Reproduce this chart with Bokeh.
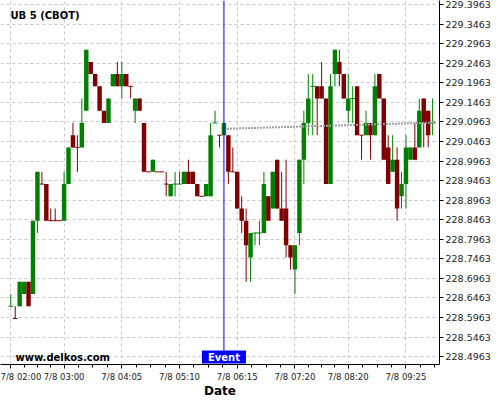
from bokeh.plotting import figure
from bokeh.models import Range1d, FixedTicker, Span, Label, ColumnDataSource, NumeralTickFormatter
from bokeh.embed import file_html
from bokeh.resources import INLINE

# ---- data (5-minute candles from 7/8 02:00) ----
x_tick_idx = [0, 12, 25, 38, 51, 64, 76, 89]
x_tick_labels = ["7/8 02:00", "7/8 03:00", "7/8 04:05", "7/8 05:10",
                 "7/8 06:15", "7/8 07:20", "7/8 08:20", "7/8 09:25"]
y_ticks = [228.4963, 228.5463, 228.5963, 228.6463, 228.6963, 228.7463, 228.7963,
           228.8463, 228.8963, 228.9463, 228.9963, 229.0463, 229.0963, 229.1463,
           229.1963, 229.2463, 229.2963, 229.3463, 229.3963]

opens = [228.625, 228.59375, 228.625, 228.65625, 228.6875, 228.65625, 228.84375, 228.9375, 228.9375, 228.84375,
         228.84375, 228.84375, 228.84375, 228.9375, 229.0625, 229.03125, 229.03125, 229.125, 229.25, 229.21875,
         229.1875, 229.125, 229.09375, 229.1875, 229.21875, 229.1875, 229.21875, 229.1875, 229.125, 229.15625,
         229.09375, 228.96875, 228.96875, 228.96875, 228.96875, 228.9375, 228.90625, 228.9375, 228.9375, 228.9375,
         228.96875, 228.96875, 228.9375, 228.90625, 228.90625, 228.90625, 229.09375, 229.0625, 229.0625, 229.0625,
         228.96875, 228.96875, 228.875, 228.84375, 228.75, 228.8125, 228.8125, 228.8125, 228.90625, 228.875,
         229.0, 228.875, 228.875, 228.78125, 228.71875, 228.8125, 229.0, 229.09375, 229.1875, 229.1875,
         229.1875, 229.15625, 228.9375, 229.21875, 229.25, 229.21875, 229.125, 229.15625, 229.1875, 229.0625,
         229.0625, 229.09375, 229.0625, 229.21875, 229.15625, 229.03125, 228.96875, 229.0, 228.90625, 228.9375,
         229.0, 229.03125, 229.03125, 229.15625, 229.125, 229.09375]
highs = [228.65625, 228.625, 228.6875, 228.6875, 228.6875, 228.84375, 228.96875, 228.96875, 228.9375, 228.875,
         228.875, 228.84375, 228.96875, 229.03125, 229.09375, 229.0625, 229.15625, 229.28125, 229.25, 229.21875,
         229.1875, 229.125, 229.15625, 229.21875, 229.25, 229.25, 229.21875, 229.1875, 229.15625, 229.15625,
         229.09375, 228.96875, 229.0, 228.96875, 228.96875, 228.96875, 228.9375, 228.96875, 228.96875, 228.96875,
         229.0, 228.96875, 228.9375, 228.90625, 228.9375, 229.09375, 229.125, 229.0625, 229.09375, 229.0625,
         229.03125, 228.96875, 228.90625, 228.875, 228.8125, 228.8125, 228.84375, 228.96875, 228.90625, 228.96875,
         229.0, 228.96875, 229.0, 228.78125, 228.78125, 229.0, 229.125, 229.21875, 229.21875, 229.1875,
         229.25, 229.15625, 229.21875, 229.28125, 229.28125, 229.21875, 229.21875, 229.1875, 229.1875, 229.0625,
         229.125, 229.09375, 229.21875, 229.21875, 229.15625, 229.0625, 229.0625, 229.03125, 228.96875, 229.0625,
         229.03125, 229.09375, 229.15625, 229.15625, 229.125, 229.15625]
lows = [228.625, 228.59375, 228.625, 228.65625, 228.625, 228.65625, 228.8125, 228.9375, 228.84375, 228.84375,
        228.84375, 228.84375, 228.84375, 228.9375, 229.03125, 228.96875, 229.03125, 229.125, 229.21875, 229.1875,
        229.125, 229.09375, 229.09375, 229.1875, 229.1875, 229.15625, 229.1875, 229.15625, 229.09375, 229.125,
        228.96875, 228.96875, 228.96875, 228.96875, 228.96875, 228.90625, 228.90625, 228.90625, 228.9375, 228.9375,
        228.9375, 228.9375, 228.90625, 228.90625, 228.90625, 228.90625, 229.09375, 229.03125, 229.0625, 228.9375,
        228.96875, 228.875, 228.8125, 228.6875, 228.6875, 228.78125, 228.78125, 228.8125, 228.84375, 228.875,
        228.875, 228.84375, 228.75, 228.71875, 228.65625, 228.78125, 228.9375, 229.0625, 229.0625, 229.0625,
        229.15625, 228.9375, 228.9375, 229.1875, 229.1875, 229.15625, 229.09375, 229.09375, 229.0625, 229.0,
        229.0625, 229.0, 229.0625, 229.15625, 229.0, 228.9375, 228.96875, 228.84375, 228.875, 228.875,
        229.0, 229.0, 229.03125, 229.03125, 229.03125, 229.0625]
closes = [228.625, 228.59375, 228.6875, 228.6875, 228.625, 228.84375, 228.96875, 228.9375, 228.84375, 228.84375,
          228.84375, 228.84375, 228.9375, 229.03125, 229.03125, 229.03125, 229.09375, 229.28125, 229.21875, 229.1875,
          229.125, 229.09375, 229.15625, 229.21875, 229.1875, 229.21875, 229.1875, 229.1875, 229.15625, 229.125,
          228.96875, 228.96875, 229.0, 228.96875, 228.96875, 228.9375, 228.9375, 228.9375, 228.9375, 228.96875,
          228.9375, 228.9375, 228.90625, 228.90625, 228.9375, 229.0625, 229.09375, 229.0625, 229.09375, 228.96875,
          228.96875, 228.875, 228.84375, 228.78125, 228.8125, 228.8125, 228.8125, 228.9375, 228.84375, 228.96875,
          228.875, 228.84375, 228.78125, 228.75, 228.78125, 229.0, 229.09375, 229.15625, 229.1875, 229.15625,
          229.15625, 228.9375, 229.1875, 229.28125, 229.21875, 229.15625, 229.15625, 229.15625, 229.0625, 229.0625,
          229.09375, 229.0625, 229.1875, 229.15625, 229.0, 228.9375, 229.0, 228.875, 228.9375, 229.03125,
          229.03125, 229.0, 229.125, 229.09375, 229.0625, 229.09375]
# unchanged (doji) candles drawn in the "up" colour
doji_up = [0, 37, 38, 46, 55, 56, 68, 77, 95]

event_idx = 48
trend_x = [48.7, 95.8]
trend_y = [229.079, 229.095]

UP = "#008000"
DOWN = "#800000"
FONT = "DejaVu Sans"
X0, X1 = -2.32, 96.55
Y0, Y1 = 228.4761, 229.4070

n = len(opens)
xs = list(range(n))
colors = []
for i in xs:
    if closes[i] > opens[i] or (closes[i] == opens[i] and i in doji_up):
        colors.append(UP)
    else:
        colors.append(DOWN)

wick_src = ColumnDataSource(dict(x=xs, low=lows, high=highs, color=colors))
body_idx = [i for i in xs if closes[i] != opens[i]]
body_src = ColumnDataSource(dict(
    x=body_idx,
    top=[max(opens[i], closes[i]) for i in body_idx],
    bottom=[min(opens[i], closes[i]) for i in body_idx],
    color=[colors[i] for i in body_idx]))
doji_idx = [i for i in xs if closes[i] == opens[i]]
doji_src = ColumnDataSource(dict(
    x0=[i - 0.5 for i in doji_idx], x1=[i + 0.5 for i in doji_idx],
    y=[opens[i] for i in doji_idx], color=[colors[i] for i in doji_idx]))

p = figure(frame_width=439, frame_height=364,
           x_range=Range1d(X0, X1), y_range=Range1d(Y0, Y1),
           output_backend="svg", toolbar_location=None, y_axis_location="right",
           min_border_left=0, min_border_top=0, min_border_right=0, min_border_bottom=0)
p.outline_line_color = None
p.background_fill_color = "white"
p.border_fill_color = "white"

# grid
p.grid.grid_line_color = "#c8c8c8"
p.grid.grid_line_dash = "3 3"
p.grid.grid_line_width = 1

# x axis
minor = []
for a, b in zip(x_tick_idx[:-1], x_tick_idx[1:]):
    minor += [a + (b - a) * k / 4 for k in (1, 2, 3)]
minor += [x_tick_idx[-1] + 3.25 * k for k in (1, 2)]
p.xaxis.ticker = FixedTicker(ticks=x_tick_idx, minor_ticks=minor)
p.xaxis.major_label_overrides = {t: s for t, s in zip(x_tick_idx, x_tick_labels)}
p.xaxis.axis_label = "Date"
p.xaxis.axis_label_text_font = FONT
p.xaxis.axis_label_text_font_style = "bold"
p.xaxis.axis_label_text_font_size = "12px"
p.xaxis.axis_label_text_color = "black"
p.xaxis.axis_label_standoff = -1
p.xaxis.major_label_standoff = 3
p.xaxis.major_tick_out = 4
p.xaxis.major_tick_in = 0
p.xaxis.minor_tick_out = 3
p.xaxis.minor_tick_in = 0

# y axis
p.yaxis.ticker = FixedTicker(ticks=y_ticks)
p.yaxis.formatter = NumeralTickFormatter(format="0.0000")
p.yaxis.major_tick_out = 4
p.yaxis.major_tick_in = 0
p.yaxis.minor_tick_line_color = None
p.yaxis.major_label_standoff = 2

for ax in (p.xaxis, p.yaxis):
    ax.axis_line_color = "black"
    ax.axis_line_width = 1
    ax.major_tick_line_color = "black"
    ax.major_label_text_font = FONT
    ax.major_label_text_color = "#222222"
p.yaxis.major_label_text_font_size = "9.5px"
p.xaxis.major_label_text_font_size = "8.5px"
p.xaxis.minor_tick_line_color = "black"

# candles
p.segment(x0="x", y0="low", x1="x", y1="high", line_color="color", line_width=1, source=wick_src)
p.vbar(x="x", width=1.0, top="top", bottom="bottom", fill_color="color", line_color=None, source=body_src)
p.segment(x0="x0", y0="y", x1="x1", y1="y", line_color="color", line_width=1, source=doji_src)

# trend
p.line(trend_x, trend_y, line_color="#a0a0a0", line_width=2, line_dash="2 1")

# event
p.add_layout(Span(location=event_idx, dimension="height", line_color="#0000ff", line_width=1))
p.add_layout(Label(x=event_idx, y=Y0, text="Event", text_align="center", text_baseline="bottom",
                   text_color="white", text_font=FONT, text_font_style="bold", text_font_size="10px",
                   background_fill_color="#0000ff", y_offset=1,
                   padding=dict(left=6, right=6, top=1, bottom=1)))
p.add_layout(Label(x=X1, y=trend_y[-1], text="Trend", text_align="left", text_baseline="middle",
                   text_color="white", text_font=FONT, text_font_style="bold", text_font_size="10px",
                   background_fill_color="#808080", x_offset=0,
                   padding=dict(left=4, right=3, top=2, bottom=1)))

# title and watermark
p.add_layout(Label(x=-0.07, y=229.3674, text="UB 5 (CBOT)", text_align="left", text_baseline="middle",
                   text_color="black", text_font=FONT, text_font_style="bold", text_font_size="10px"))
p.add_layout(Label(x=1.06, y=228.4932, text="www.delkos.com", text_align="left", text_baseline="alphabetic",
                   text_color="black", text_font=FONT, text_font_style="bold", text_font_size="10px"))

open("out.html", "w").write(file_html(p, INLINE))
